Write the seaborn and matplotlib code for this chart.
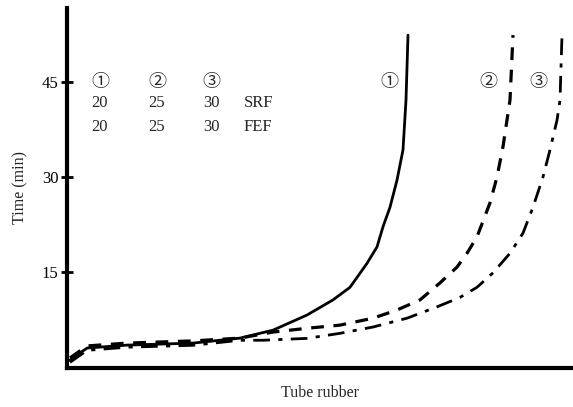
import matplotlib
matplotlib.use("Agg")
import matplotlib.pyplot as plt
import seaborn as sns
import pandas as pd

# ---- data (x: position along rubber axis, arbitrary units; y: time in min) ----
x1 = [3, 20, 60, 126, 173, 206, 240, 266, 283, 300, 310, 316, 323, 330, 336, 339, 341]
y1 = [0.95, 2.86, 3.33, 3.65, 4.44, 5.7, 8.1, 10.5, 12.5, 16.3, 18.9, 22.1, 25.2, 29.5, 34.3, 42.2, 52.5]

x2 = [3, 20, 60, 126, 173, 206, 240, 273, 306, 330, 353, 373, 390, 400, 410, 423, 430, 436, 443, 446]
y2 = [1.3, 3.2, 3.65, 4.0, 4.44, 5.4, 6.0, 6.5, 7.6, 8.9, 10.5, 13.2, 15.7, 17.9, 20.5, 25.9, 30.0, 34.8, 42.2, 52.5]

x3 = [3, 20, 60, 126, 173, 196, 240, 273, 306, 340, 370, 393, 410, 426, 443, 456, 466, 476, 483, 490, 493, 495]
y3 = [0.6, 2.5, 3.0, 3.3, 4.1, 4.1, 4.4, 5.2, 6.2, 7.6, 9.4, 10.9, 12.5, 14.8, 17.9, 21.1, 25.2, 30.0, 34.3, 39.0, 42.2, 52.5]

yticks = [15, 30, 45]
circled = ["①", "②", "③"]
srf = ["20", "25", "30"]
fef = ["20", "25", "30"]

sns.set_theme(style="white")
plt.rcParams["font.family"] = ["Liberation Serif", "Noto Sans CJK JP", "DejaVu Sans"]

fig = plt.figure(figsize=(5.73, 4.07), dpi=100)
ax = fig.add_axes([67 / 573, 1 - 368 / 407, 1 - 67 / 573, 360 / 407])

df1 = pd.DataFrame({"x": x1, "y": y1})
df2 = pd.DataFrame({"x": x2, "y": y2})
df3 = pd.DataFrame({"x": x3, "y": y3})

sns.lineplot(data=df1, x="x", y="y", ax=ax, color="black", lw=2.0, estimator=None, sort=False)
sns.lineplot(data=df2, x="x", y="y", ax=ax, color="black", lw=2.3, estimator=None, sort=False,
             dashes=False, linestyle=(0, (4, 3)))
sns.lineplot(data=df3, x="x", y="y", ax=ax, color="black", lw=2.0, estimator=None, sort=False,
             dashes=False, linestyle=(0, (6, 3, 1.5, 3)))

ax.set_xlim(0, 506)
ax.set_ylim(-0.3, 56.8)
ax.set_xticks([])
ax.set_yticks(yticks)
ax.set_yticklabels([str(t) for t in yticks], fontsize=12)
ax.tick_params(axis="y", direction="inout", length=8, width=2, left=True, pad=2, colors="black")

for s in ["top", "right"]:
    ax.spines[s].set_visible(False)
for s in ["left", "bottom"]:
    ax.spines[s].set_color("black")
    ax.spines[s].set_linewidth(3)

ax.set_xlabel("Tube rubber", fontsize=11.5, labelpad=12)
ax.set_ylabel("Time (min)", fontsize=11.5, labelpad=10)

# legend table
cols = [33, 90, 144]
for cx, c, a, b in zip(cols, circled, srf, fef):
    ax.text(cx, 45, c, ha="center", va="center", fontsize=13)
    ax.text(cx, 41.7, a, ha="center", va="center", fontsize=12)
    ax.text(cx, 37.9, b, ha="center", va="center", fontsize=12)
ax.text(177, 41.7, "SRF", ha="left", va="center", fontsize=12)
ax.text(177, 37.9, "FEF", ha="left", va="center", fontsize=12)

# curve labels
for cx, c in zip([322, 421, 471], circled):
    ax.text(cx, 45, c, ha="center", va="center", fontsize=13)

fig.savefig("out.png", dpi=100)
